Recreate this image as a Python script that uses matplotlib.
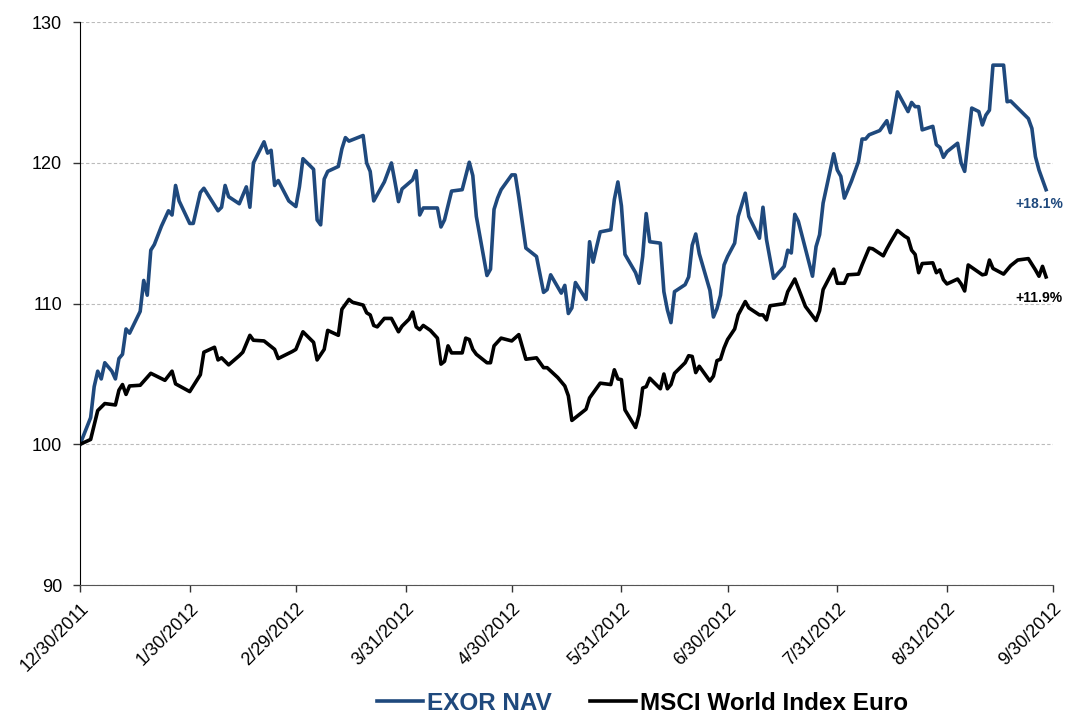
import numpy as np
import pandas as pd
import matplotlib
matplotlib.use("Agg")
import matplotlib.pyplot as plt
import matplotlib.dates as mdates

plt.rcParams['font.family'] = ['Liberation Sans', 'DejaVu Sans']

start = pd.Timestamp('2011-12-30')

# days since 12/30/2011, index values (base 100)
exor_days = [0, 3, 4, 5, 6, 7, 9, 10, 11, 12, 13, 14, 17, 18, 19, 20, 21, 23, 25, 26,
             27, 28, 31, 32, 34, 35, 39, 40, 41, 42, 45, 47, 48, 49, 52, 53, 54, 55, 56, 59,
             61, 62, 63, 66, 67, 68, 69, 70, 73, 74, 75, 76, 80, 81, 82, 83, 86, 88, 89, 90,
             91, 94, 95, 96, 97, 101, 102, 103, 105, 108, 110, 111, 112, 115, 116, 117, 118, 119, 122, 123,
             124, 126, 129, 131, 132, 133, 136, 137, 138, 139, 140, 143, 144, 145, 146, 147, 150, 151, 152, 153,
             154, 157, 158, 159, 160, 161, 164, 165, 166, 167, 168, 171, 172, 173, 174, 175, 178, 179, 180, 181,
             182, 183, 185, 186, 188, 189, 192, 193, 194, 196, 199, 200, 201, 202, 203, 207, 208, 209, 210, 213,
             214, 215, 216, 218, 220, 221, 222, 223, 226, 228, 229, 231, 234, 235, 236, 237, 238, 241, 242, 243,
             244, 245, 248, 249, 250, 252, 254, 255, 256, 257, 258, 261, 262, 263, 265, 268, 269, 270, 271, 273]
exor_vals = [100.0, 101.9, 104.1, 105.2, 104.65, 105.8, 105.2, 104.65, 106.1, 106.4, 108.2, 107.9, 109.45, 111.65, 110.6, 113.8, 114.2, 115.5, 116.6, 116.3,
             118.4, 117.3, 115.7, 115.7, 117.9, 118.2, 116.6, 116.85, 118.4, 117.6, 117.1, 118.3, 116.85, 120.0, 121.5, 120.7, 120.9, 118.4, 118.75, 117.3,
             116.9, 118.3, 120.3, 119.55, 115.95, 115.6, 118.85, 119.4, 119.75, 121.0, 121.8, 121.55, 121.95, 120.0, 119.4, 117.3, 118.65, 120.0, 118.65, 117.25,
             118.15, 118.8, 119.45, 116.3, 116.8, 116.8, 115.45, 115.95, 118.0, 118.1, 120.05, 119.1, 116.2, 112.0, 112.45, 116.7, 117.5, 118.1, 119.15, 119.15,
             117.55, 113.95, 113.35, 110.8, 111.0, 112.05, 110.75, 111.3, 109.3, 109.7, 111.5, 110.3, 114.4, 112.95, 114.05, 115.1, 115.25, 117.4, 118.65, 116.95,
             113.5, 112.2, 111.45, 113.35, 116.4, 114.4, 114.3, 110.85, 109.55, 108.65, 110.85, 111.35, 111.9, 114.15, 114.95, 113.55, 110.95, 109.05, 109.65, 110.6,
             112.75, 113.35, 114.3, 116.2, 117.85, 116.2, 114.65, 116.85, 114.55, 111.8, 112.65, 113.8, 113.6, 116.35, 115.85, 111.95, 114.05, 114.9, 117.15, 120.65,
             119.5, 119.05, 117.5, 118.7, 120.1, 121.7, 121.7, 122.0, 122.3, 123.0, 122.15, 125.05, 123.65, 124.3, 124.0, 124.0, 122.35, 122.6, 121.3, 121.1,
             120.4, 120.8, 121.4, 120.0, 119.4, 123.9, 123.65, 122.7, 123.4, 123.75, 126.95, 126.95, 124.35, 124.4, 123.9, 123.15, 122.45, 120.45, 119.5, 118.1]

msci_days = [0, 3, 5, 7, 10, 11, 12, 13, 14, 17, 20, 24, 26, 27, 31, 34, 35, 38, 39, 40,
             42, 45, 46, 48, 49, 52, 55, 56, 60, 61, 63, 66, 67, 69, 70, 73, 74, 76, 77, 80,
             81, 82, 83, 84, 86, 88, 90, 91, 93, 94, 95, 96, 97, 99, 101, 102, 103, 104, 105, 108,
             109, 110, 111, 112, 115, 116, 117, 119, 122, 124, 126, 129, 131, 132, 135, 137, 138, 139, 143, 144,
             147, 150, 151, 152, 153, 154, 157, 158, 159, 160, 161, 164, 165, 166, 167, 168, 171, 172, 173, 174,
             175, 178, 179, 180, 181, 182, 183, 185, 186, 188, 189, 192, 193, 194, 195, 199, 200, 202, 203, 205,
             208, 209, 210, 213, 214, 216, 217, 220, 221, 223, 224, 227, 228, 229, 231, 233, 234, 235, 236, 237,
             238, 241, 242, 243, 244, 245, 248, 249, 250, 251, 255, 256, 257, 258, 261, 263, 265, 268, 270, 271,
             272, 273]
msci_vals = [100.0, 100.35, 102.4, 102.9, 102.8, 103.85, 104.25, 103.55, 104.15, 104.2, 105.05, 104.55, 105.2, 104.3, 103.75, 104.95, 106.55, 106.9, 106.0, 106.15,
             105.65, 106.3, 106.55, 107.75, 107.4, 107.35, 106.75, 106.1, 106.6, 106.75, 108.0, 107.25, 106.0, 106.75, 108.1, 107.75, 109.6, 110.3, 110.1, 109.9,
             109.35, 109.2, 108.45, 108.35, 108.95, 108.95, 108.0, 108.4, 108.9, 109.4, 108.35, 108.15, 108.45, 108.1, 107.55, 105.7, 105.9, 107.0, 106.5, 106.5,
             107.55, 107.45, 106.75, 106.4, 105.8, 105.8, 107.0, 107.55, 107.35, 107.8, 106.05, 106.15, 105.45, 105.45, 104.75, 104.15, 103.45, 101.7, 102.5, 103.3,
             104.35, 104.25, 105.3, 104.65, 104.6, 102.45, 101.2, 102.1, 104.0, 104.1, 104.7, 103.95, 105.0, 103.95, 104.25, 105.05, 105.8, 106.3, 106.25, 105.1,
             105.55, 104.5, 104.85, 105.95, 106.05, 106.85, 107.45, 108.2, 109.2, 110.15, 109.7, 109.2, 109.2, 108.85, 109.85, 110.0, 110.85, 111.75, 111.1, 109.8,
             108.8, 109.5, 111.0, 112.45, 111.45, 111.45, 112.05, 112.1, 112.75, 113.95, 113.9, 113.4, 113.9, 114.35, 115.2, 114.8, 114.65, 113.8, 113.5, 112.2,
             112.85, 112.9, 112.2, 112.4, 111.7, 111.4, 111.75, 111.4, 110.9, 112.75, 112.05, 112.1, 113.1, 112.5, 112.1, 112.7, 113.1, 113.2, 112.4, 111.95,
             112.65, 111.9]

tick_dates = ['2011-12-30', '2012-01-30', '2012-02-29', '2012-03-31', '2012-04-30',
              '2012-05-31', '2012-06-30', '2012-07-31', '2012-08-31', '2012-09-30']
tick_labels = ['12/30/2011', '1/30/2012', '2/29/2012', '3/31/2012', '4/30/2012',
               '5/31/2012', '6/30/2012', '7/31/2012', '8/31/2012', '9/30/2012']

exor_label = 'EXOR NAV'
msci_label = 'MSCI World Index Euro'
exor_end = '+18.1%'
msci_end = '+11.9%'

blue = '#1F497D'

exor_x = start + pd.to_timedelta(exor_days, unit='D')
msci_x = start + pd.to_timedelta(msci_days, unit='D')
ticks = pd.to_datetime(tick_dates)

fig = plt.figure(figsize=(10.67, 7.17), dpi=100)
ax = fig.add_axes([0.075, 0.184, 0.912, 0.785])

ax.plot(exor_x, exor_vals, color=blue, lw=2.6, label=exor_label, solid_joinstyle='round')
ax.plot(msci_x, msci_vals, color='black', lw=2.6, label=msci_label, solid_joinstyle='round')

ax.set_xlim(ticks[0], ticks[-1])
ax.set_ylim(90, 130)
ax.set_yticks([90, 100, 110, 120, 130])
ax.set_xticks(ticks)
ax.set_xticklabels(tick_labels, rotation=45, ha='right', rotation_mode='anchor')
ax.tick_params(axis='both', labelsize=13, direction='out', length=5, width=1, color='#333333')
ax.tick_params(axis='x', pad=6)
ax.tick_params(axis='y', pad=8)

ax.grid(axis='y', color='#BBBBBB', linestyle=(0, (3, 2)), linewidth=0.8)
ax.set_axisbelow(True)
for s in ['top', 'right']:
    ax.spines[s].set_visible(False)
ax.spines['left'].set_color('black')
ax.spines['bottom'].set_color('#555555')

ax.annotate(exor_end, xy=(exor_x[-1], exor_vals[-1]), xytext=(-5, -10), textcoords='offset points',
            ha='center', va='center', color=blue, fontsize=10, fontweight='bold')
ax.annotate(msci_end, xy=(msci_x[-1], msci_vals[-1]), xytext=(-5, -15), textcoords='offset points',
            ha='center', va='center', color='black', fontsize=10, fontweight='bold')

leg = ax.legend(loc='center', bbox_to_anchor=(0.578, -0.21), ncol=2, frameon=False,
                prop={'size': 17.5, 'weight': 'bold'}, handlelength=1.9, handletextpad=0.15,
                columnspacing=1.6, borderpad=0.2)
for txt, c in zip(leg.get_texts(), [blue, 'black']):
    txt.set_color(c)

fig.savefig('out.png', dpi=100)
